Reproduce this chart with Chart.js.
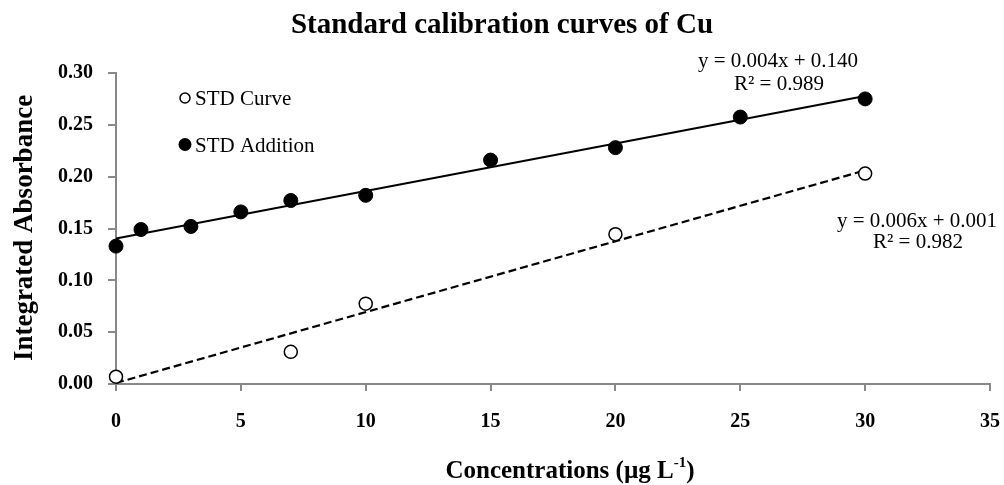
<!DOCTYPE html>
<html>
<head>
<meta charset="utf-8">
<script src="https://cdn.jsdelivr.net/npm/chart.js@4/dist/chart.umd.min.js"></script>
<style>
  html, body { margin: 0; padding: 0; background: #ffffff; }
  #wrap { width: 1004px; height: 485px; position: relative; }
</style>
</head>
<body>
<div id="wrap"><canvas id="c" width="1004" height="485"></canvas></div>
<script>
// ---- Data ----
const curveX = [0, 7, 10, 20, 30];
const curveY = [0.007, 0.031, 0.0775, 0.1445, 0.203];
const additionX = [0, 1, 3, 5, 7, 10, 15, 20, 25, 30];
const additionY = [0.133, 0.149, 0.152, 0.166, 0.177, 0.182, 0.216, 0.228, 0.2575, 0.275];
const xTicks = [0, 5, 10, 15, 20, 25, 30, 35];
const yTicks = [0.00, 0.05, 0.10, 0.15, 0.20, 0.25, 0.30];
const seriesNames = ['STD Curve', 'STD Addition'];
const additionEq = ['y = 0.004x + 0.140', 'R\u00B2 = 0.989'];
const curveEq = ['y = 0.006x + 0.001', 'R\u00B2 = 0.982'];
const chartTitle = 'Standard calibration curves of Cu';
const yTitle = 'Integrated Absorbance';
const xTitleMain = 'Concentrations (\u00B5g L';
const xTitleSup = '-1';
const xTitleEnd = ')';

// least-squares trendline over the data range
function trend(xs, ys) {
  const n = xs.length;
  const mx = xs.reduce((a, b) => a + b, 0) / n;
  const my = ys.reduce((a, b) => a + b, 0) / n;
  let sxx = 0, sxy = 0;
  for (let i = 0; i < n; i++) { sxx += (xs[i] - mx) ** 2; sxy += (xs[i] - mx) * (ys[i] - my); }
  const m = sxy / sxx, b = my - m * mx;
  const x0 = Math.min(...xs), x1 = Math.max(...xs);
  return [{ x: x0, y: m * x0 + b }, { x: x1, y: m * x1 + b }];
}
const pts = (xs, ys) => xs.map((x, i) => ({ x, y: ys[i] }));

const SERIF = '"Liberation Serif", "Times New Roman", serif';
const AXIS_GRAY = '#898989';

const overlay = {
  id: 'overlay',
  afterDraw(chart) {
    const ctx = chart.ctx;
    ctx.save();
    ctx.fillStyle = '#000';
    // title
    ctx.font = 'bold 29px ' + SERIF;
    ctx.textAlign = 'center';
    ctx.textBaseline = 'alphabetic';
    ctx.fillText(chartTitle, 502, 33);

    // y title
    ctx.save();
    ctx.translate(32, 228);
    ctx.rotate(-Math.PI / 2);
    ctx.font = 'bold 27px ' + SERIF;
    ctx.fillText(yTitle, 0, 0);
    ctx.restore();

    // x title with superscript
    const fMain = 'bold 25px ' + SERIF, fSup = 'bold 15px ' + SERIF;
    ctx.font = fMain; const w1 = ctx.measureText(xTitleMain).width; const w3 = ctx.measureText(xTitleEnd).width;
    ctx.font = fSup; const w2 = ctx.measureText(xTitleSup).width;
    let x = 570 - (w1 + w2 + w3) / 2;
    ctx.textAlign = 'left';
    ctx.font = fMain; ctx.fillText(xTitleMain, x, 478); x += w1;
    ctx.font = fSup; ctx.fillText(xTitleSup, x, 467); x += w2;
    ctx.font = fMain; ctx.fillText(xTitleEnd, x, 478);

    // legend
    ctx.font = '21px ' + SERIF;
    ctx.textAlign = 'left';
    ctx.beginPath(); ctx.arc(185, 98, 5, 0, Math.PI * 2);
    ctx.fillStyle = '#fff'; ctx.fill(); ctx.lineWidth = 1.5; ctx.strokeStyle = '#000'; ctx.stroke();
    ctx.fillStyle = '#000';
    ctx.fillText(seriesNames[0], 195, 105);
    ctx.beginPath(); ctx.arc(185, 144.5, 6.5, 0, Math.PI * 2); ctx.fill();
    ctx.fillText(seriesNames[1], 195, 151.5);

    // equations
    ctx.textAlign = 'center';
    ctx.fillText(additionEq[0], 778, 66.5);
    ctx.fillText(additionEq[1], 779, 90);
    ctx.fillText(curveEq[0], 917, 226.5);
    ctx.fillText(curveEq[1], 918, 248);
    ctx.restore();
  }
};

new Chart(document.getElementById('c'), {
  type: 'scatter',
  data: {
    datasets: [
      {
        label: seriesNames[1] + ' trend', data: trend(additionX, additionY), showLine: true,
        borderColor: '#000', borderWidth: 2, pointRadius: 0, order: 3, fill: false, clip: false
      },
      {
        label: seriesNames[0] + ' trend', data: trend(curveX, curveY), showLine: true,
        borderColor: '#000', borderWidth: 2.2, borderDash: [8, 4], pointRadius: 0, order: 4, fill: false, clip: false
      },
      {
        label: seriesNames[1], data: pts(additionX, additionY), clip: false,
        pointRadius: 7, pointBackgroundColor: '#000', pointBorderColor: '#000', pointBorderWidth: 1, order: 1
      },
      {
        label: seriesNames[0], data: pts(curveX, curveY), clip: false,
        pointRadius: 6.5, pointBackgroundColor: '#fff', pointBorderColor: '#000', pointBorderWidth: 1.5, order: 2
      }
    ]
  },
  options: {
    responsive: false,
    animation: false,
    devicePixelRatio: 1,
    layout: { padding: { top: 73, right: 14, left: 0, bottom: 0 } },
    plugins: { legend: { display: false }, tooltip: { enabled: false }, title: { display: false } },
    scales: {
      x: {
        type: 'linear', min: 0, max: 35,
        afterBuildTicks: (s) => { s.ticks = xTicks.map(v => ({ value: v })); },
        afterFit: (s) => { s.height = 101; s.paddingRight = 0; s.paddingLeft = 0; },
        grid: { display: true, drawOnChartArea: false, drawTicks: true, tickLength: 7, color: AXIS_GRAY, lineWidth: 2 },
        border: { display: true, color: AXIS_GRAY, width: 2 },
        ticks: { color: '#000', font: { family: SERIF, size: 20, weight: 'bold' }, padding: 19, maxRotation: 0,
                 callback: (v) => String(v) }
      },
      y: {
        type: 'linear', min: 0, max: 0.30,
        afterBuildTicks: (s) => { s.ticks = yTicks.map(v => ({ value: v })); },
        afterFit: (s) => { s.width = 116; s.paddingTop = 0; s.paddingBottom = 0; },
        grid: { display: true, drawOnChartArea: false, drawTicks: true, tickLength: 8, color: AXIS_GRAY, lineWidth: 2 },
        border: { display: true, color: AXIS_GRAY, width: 2 },
        ticks: { color: '#000', font: { family: SERIF, size: 20, weight: 'bold' }, padding: 15,
                 callback: (v) => Number(v).toFixed(2) }
      }
    }
  },
  plugins: [overlay]
});
</script>
</body>
</html>
